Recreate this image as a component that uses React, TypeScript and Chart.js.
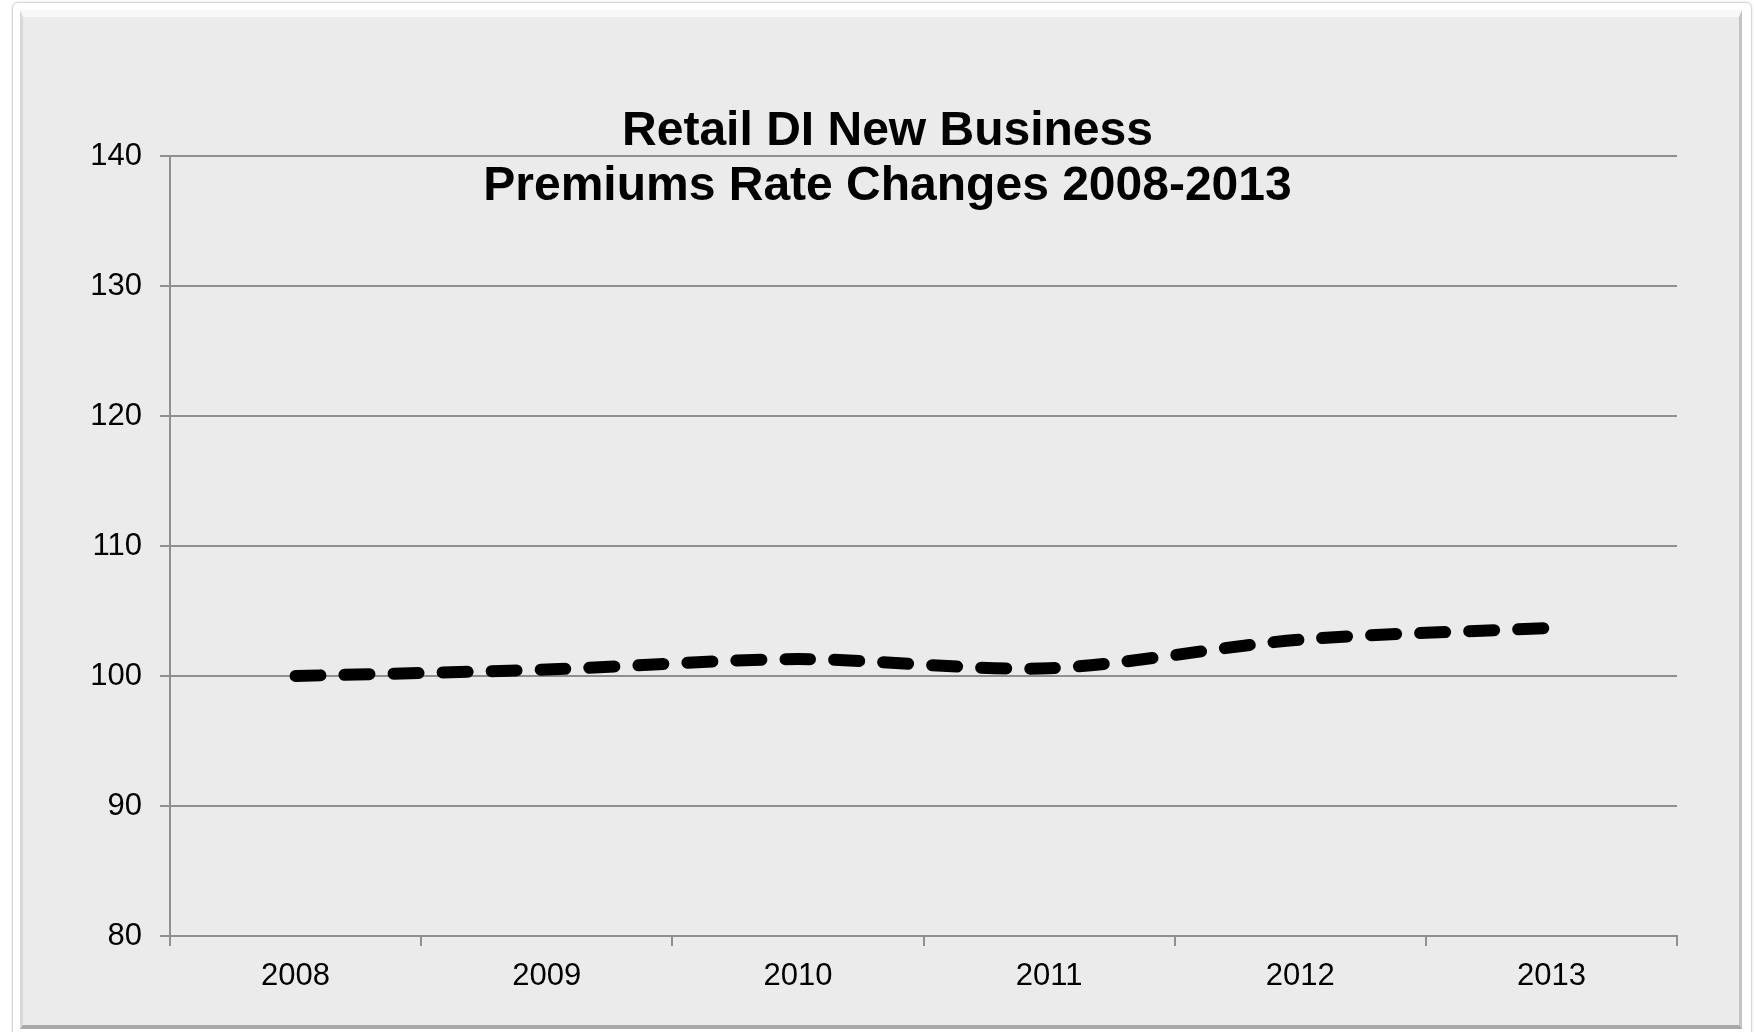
import React, { useEffect, useRef } from "react";
import { Chart, registerables } from "chart.js";

Chart.register(...registerables);

const categories = ["2008", "2009", "2010", "2011", "2012", "2013"];
const rateIndex = [100, 100.5, 101.3, 100.6, 102.8, 103.7];
const titleLines = ["Retail DI New Business", "Premiums Rate Changes 2008-2013"];
const yMin = 80;
const yMax = 140;
const yStep = 10;

const titleShift = {
  id: "titleShift",
  afterLayout(chart: any) {
    if (chart.titleBlock) {
      chart.titleBlock.left += 8;
    }
  },
};

export default function App() {
  const ref = useRef<HTMLCanvasElement | null>(null);

  useEffect(() => {
    if (!ref.current) return;
    const gridColor = "#8f8f8f";
    const chart = new Chart(ref.current, {
      type: "line",
      data: {
        labels: categories,
        datasets: [
          {
            label: "Rate index",
            data: rateIndex,
            borderColor: "#000000",
            backgroundColor: "#000000",
            borderWidth: 12,
            borderDash: [25, 24],
            borderCapStyle: "round",
            borderJoinStyle: "round",
            pointRadius: 0,
            pointHoverRadius: 0,
            tension: 0.3,
            fill: false,
          },
        ],
      },
      plugins: [titleShift],
      options: {
        responsive: false,
        animation: false,
        events: [],
        layout: { padding: { left: 90, right: 77, top: 0, bottom: 36 } },
        plugins: {
          legend: { display: false },
          tooltip: { enabled: false },
          title: {
            display: true,
            text: titleLines,
            color: "#000000",
            font: { family: "'Liberation Sans', Arial, sans-serif", size: 48, weight: "bold", lineHeight: 55 / 48 },
            padding: { top: 104, bottom: -58 },
          },
        },
        scales: {
          x: {
            type: "category",
            offset: true,
            grid: {
              display: true,
              drawOnChartArea: false,
              drawTicks: true,
              tickLength: 10,
              color: gridColor,
              lineWidth: 2,
              offset: true,
            },
            border: { display: true, color: gridColor, width: 2 },
            ticks: {
              color: "#000000",
              padding: 12,
              maxRotation: 0,
              font: { family: "'Liberation Sans', Arial, sans-serif", size: 31 },
            },
            afterFit: (scale: any) => {
              scale.height = 60;
            },
          },
          y: {
            min: yMin,
            max: yMax,
            grid: {
              display: true,
              drawOnChartArea: true,
              drawTicks: true,
              tickLength: 10,
              color: gridColor,
              lineWidth: 2,
            },
            border: { display: true, color: gridColor, width: 2 },
            ticks: {
              stepSize: yStep,
              color: "#000000",
              padding: 18,
              font: { family: "'Liberation Sans', Arial, sans-serif", size: 31 },
            },
            afterFit: (scale: any) => {
              scale.width = 80;
            },
          },
        },
      },
    });
    return () => chart.destroy();
  }, []);

  return (
    <div style={{ position: "fixed", left: 0, top: 0, width: 1754, height: 1032, overflow: "hidden", background: "#ffffff" }}>
      <div
        style={{
          position: "absolute",
          left: 12,
          top: 2,
          width: 1738,
          height: 1045,
          border: "1px solid #d6d6d6",
          borderRadius: 6,
          background: "#ffffff",
          boxShadow: "0 0 3px rgba(0,0,0,0.12)",
        }}
      />
      <div
        style={{
          position: "absolute",
          left: 20,
          top: 10,
          width: 1716,
          height: 1008,
          background: "#ebebeb",
          borderTop: "7px solid #f8f8f8",
          borderLeft: "3px solid #d9d9d9",
          borderRight: "3px solid #c4c4c4",
          borderBottom: "4px solid #a9a9a9",
        }}
      />
      <canvas
        ref={ref}
        width={1754}
        height={1032}
        style={{ position: "absolute", left: 0, top: 0, width: 1754, height: 1032 }}
      />
    </div>
  );
}
